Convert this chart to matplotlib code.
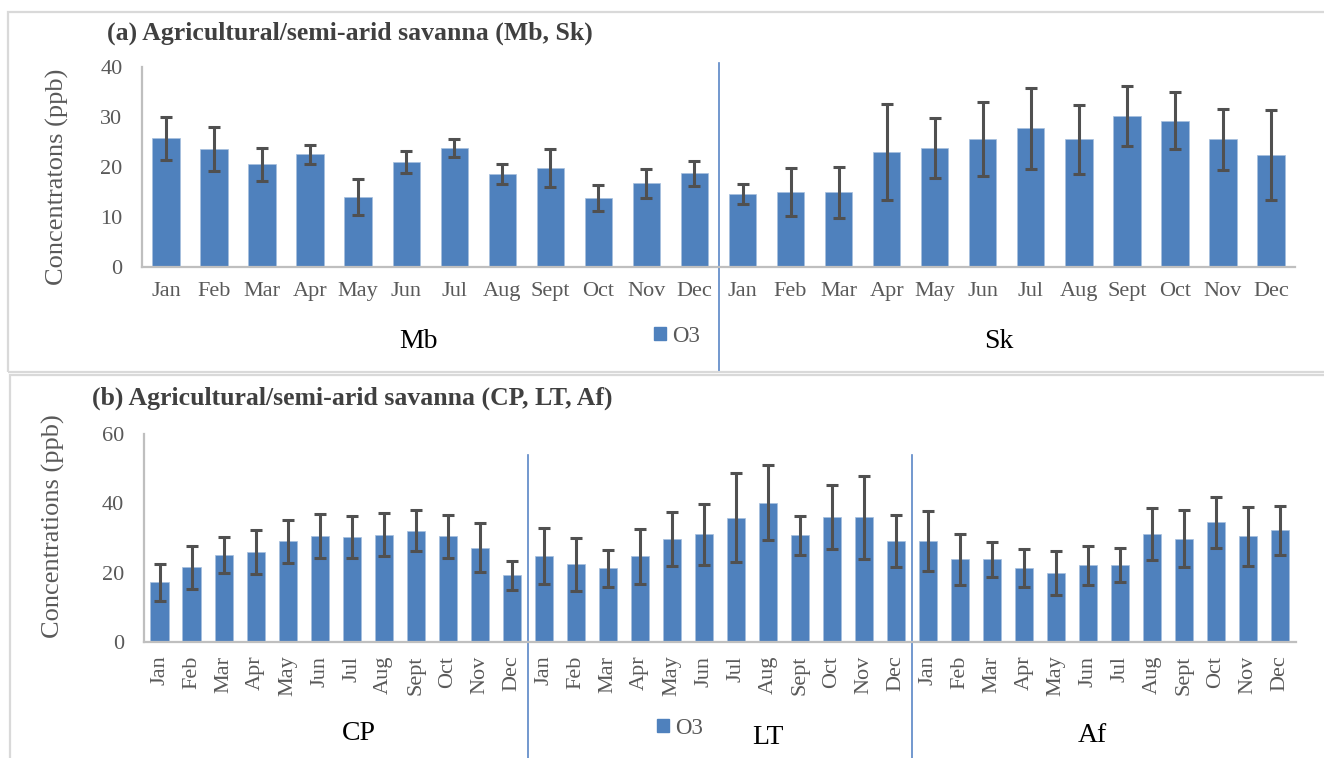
import matplotlib.pyplot as plt
import matplotlib.patches as mpatches
from matplotlib.transforms import blended_transform_factory
import numpy as np

plt.rcParams["font.family"] = ["Liberation Serif", "DejaVu Serif"]

months = ["Jan", "Feb", "Mar", "Apr", "May", "Jun", "Jul", "Aug", "Sept", "Oct", "Nov", "Dec"]

# panel (a)
mb_mean = [25.7, 23.5, 20.5, 22.5, 14.0, 20.9, 23.8, 18.6, 19.8, 13.7, 16.7, 18.7]
mb_err = [4.3, 4.4, 3.3, 1.9, 3.6, 2.2, 1.8, 2.0, 3.8, 2.6, 2.9, 2.5]
sk_mean = [14.5, 15.0, 14.9, 23.0, 23.7, 25.5, 27.7, 25.5, 30.2, 29.2, 25.5, 22.4]
sk_err = [2.0, 4.8, 5.1, 9.6, 6.0, 7.4, 8.1, 6.9, 6.0, 5.7, 6.1, 9.0]

# panel (b)
cp_mean = [17.2, 21.5, 25.0, 25.9, 29.0, 30.5, 30.4, 30.9, 32.1, 30.5, 27.2, 19.2]
cp_err = [5.3, 6.3, 5.2, 6.4, 6.1, 6.3, 6.1, 6.2, 5.9, 6.2, 7.0, 4.1]
lt_mean = [24.8, 22.4, 21.2, 24.7, 29.6, 31.1, 35.9, 40.2, 30.8, 36.0, 36.0, 29.1]
lt_err = [8.1, 7.7, 5.3, 8.0, 7.8, 8.8, 12.8, 10.9, 5.6, 9.2, 12.0, 7.6]
af_mean = [29.1, 23.9, 23.8, 21.3, 19.8, 22.1, 22.3, 31.2, 29.8, 34.5, 30.5, 32.2]
af_err = [8.7, 7.4, 5.0, 5.5, 6.3, 5.7, 4.9, 7.6, 8.2, 7.5, 8.5, 7.1]

bar_color = "#4F81BD"
err_color = "#505050"
axis_color = "#BFBFBF"
tick_color = "#595959"
sep_color = "#5A86C6"

W, H = 1324, 758
fig = plt.figure(figsize=(W / 100, H / 100), dpi=100)


def fx(px):
    return px / W


def fy(py):
    return 1 - py / H


# panel borders (they run off the right / bottom edge)
fig.patches.append(mpatches.Rectangle((fx(8), fy(372)), fx(1340), (372 - 12) / H, transform=fig.transFigure,
                                      fill=False, edgecolor="#D9D9D9", linewidth=1.6))
fig.patches.append(mpatches.Rectangle((fx(10), fy(790)), fx(1340), (790 - 375) / H, transform=fig.transFigure,
                                      fill=False, edgecolor="#D9D9D9", linewidth=1.6))


def panel(rect, means, errs, ymax, ystep, rotate):
    ax = fig.add_axes(rect)
    vals = np.concatenate(means)
    errv = np.concatenate(errs)
    x = np.arange(len(vals))
    ax.bar(x, vals, width=0.57, color=bar_color, edgecolor="#A7BFDE", linewidth=0.5, zorder=2)
    ax.errorbar(x, vals, yerr=errv, fmt="none", ecolor=err_color, elinewidth=2.2,
                capsize=4, capthick=2.2, zorder=3)
    ax.set_xlim(-0.5, len(vals) - 0.5)
    ax.set_ylim(0, ymax)
    ax.set_yticks(np.arange(0, ymax + 1, ystep))
    ax.set_xticks(x)
    ax.set_xticklabels(months * len(means), rotation=90 if rotate else 0)
    for s in ["top", "right"]:
        ax.spines[s].set_visible(False)
    for s in ["left", "bottom"]:
        ax.spines[s].set_color(axis_color)
        ax.spines[s].set_linewidth(1.6)
    ax.tick_params(axis="both", length=0, colors=tick_color, labelsize=16)
    ax.tick_params(axis="y", pad=14, labelsize=16)
    ax.tick_params(axis="x", pad=10 if rotate else 11)
    ax.patch.set_alpha(0)
    return ax


ax1 = panel([fx(142), fy(266.7), fx(1295 - 142), (266.7 - 66.7) / H],
            [mb_mean, sk_mean], [mb_err, sk_err], 40, 10, False)
ax2 = panel([fx(143.6), fy(641.7), fx(1296 - 143.6), (641.7 - 434.3) / H],
            [cp_mean, lt_mean, af_mean], [cp_err, lt_err, af_err], 60, 20, True)

# group separators
tr1 = blended_transform_factory(ax1.transData, fig.transFigure)
ax1.plot([11.5, 11.5], [fy(63), fy(372)], color=sep_color, lw=1.2, transform=tr1, clip_on=False)
tr2 = blended_transform_factory(ax2.transData, fig.transFigure)
for xs in [11.5, 23.5]:
    ax2.plot([xs, xs], [fy(455), fy(758)], color=sep_color, lw=1.2, transform=tr2, clip_on=False)

# titles
fig.text(fx(107), fy(33), "(a) Agricultural/semi-arid savanna (Mb, Sk)", fontsize=18.5, fontweight="bold",
         color="#404040", ha="left", va="center")
fig.text(fx(92), fy(398), "(b) Agricultural/semi-arid savanna (CP, LT, Af)", fontsize=18.5, fontweight="bold",
         color="#404040", ha="left", va="center")

# y labels
fig.text(fx(57), fy(177), "Concentratons (ppb)", rotation=90, fontsize=19, color=tick_color,
         ha="center", va="center")
fig.text(fx(53), fy(526), "Concentrations (ppb)", rotation=90, fontsize=19, color=tick_color,
         ha="center", va="center")

# group labels
for lab, px, py in [("Mb", 418, 342), ("Sk", 999, 342), ("CP", 359, 734), ("LT", 768, 738), ("Af", 1092, 736)]:
    fig.text(fx(px), fy(py), lab, fontsize=20, color="black", ha="center", va="center")

# legends
handle = mpatches.Patch(color=bar_color)
for lx, ly in [(677, 336), (680, 728)]:
    fig.legend(handles=[handle], labels=["O3"], loc="center", bbox_to_anchor=(fx(lx), fy(ly)),
               frameon=False, fontsize=16.5, handlelength=0.5, handleheight=0.5, handletextpad=0.25,
               labelcolor=tick_color, borderpad=0, borderaxespad=0)

fig.savefig("out.png", dpi=100)
